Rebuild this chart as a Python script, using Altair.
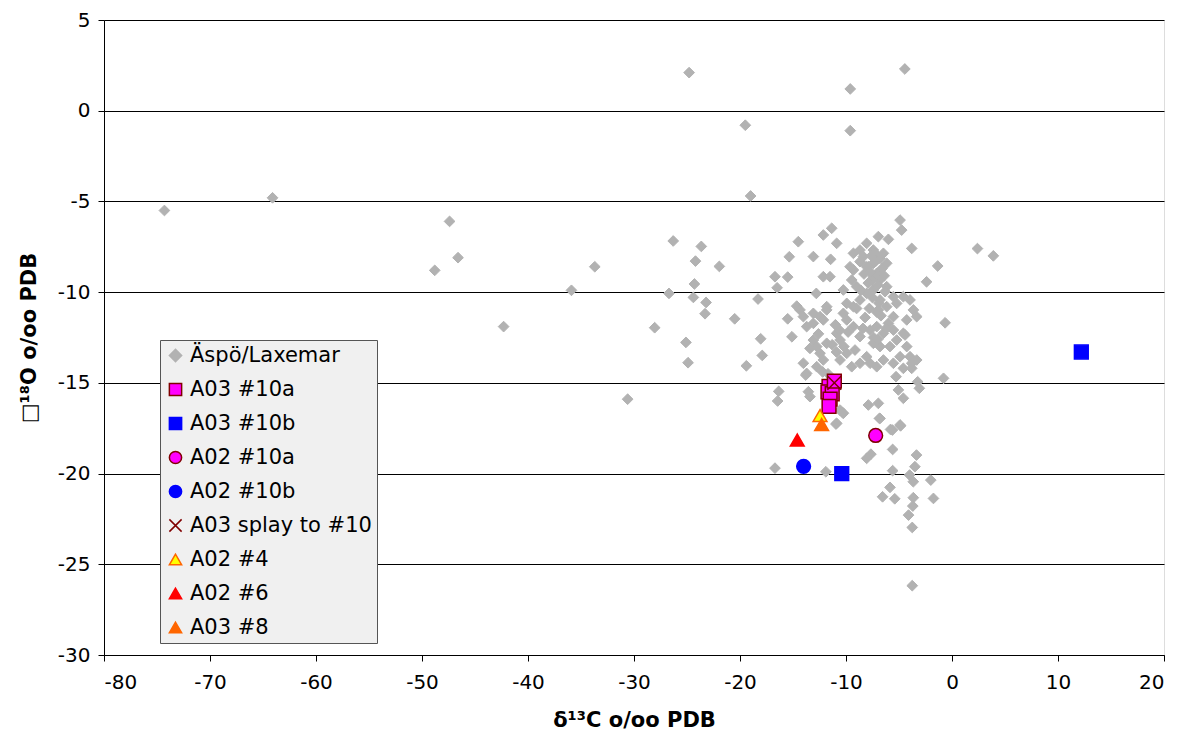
import altair as alt
import pandas as pd

# ---- Äspö/Laxemar background data (delta13C, delta18O) ----
gray_x = [
    -74.3, -64.1, -48.8, -47.4, -46.6, -42.3, -35.9, -33.7, -30.6,
    -24.8, -9.6, -4.45, -19.5, -9.6, -19.0,
    -26.3, -23.65, -24.2, -21.95, -26.7, -24.3, -24.4, -23.2, -23.3, -28.05,
    -25.1, -24.9, -20.5, -18.3, -16.7, -15.5, -15.35, -16.5, -18.05, -17.9,
    -19.4, -15.5, -15.1, -14.65, -14.5, -16.35, -16.45,
    -9.30, -8.68, -8.05, -7.42, -6.95, -6.00, -6.79, -6.16, -7.42, -8.05,
    -8.68, -9.30, -9.46, -8.99, -7.42, -6.79, -6.16, -7.42, -8.05, -8.68,
    -9.30, -9.93, -10.25, -9.93, -9.30, -8.68, -7.73, -7.10, -6.47, -7.42,
    -6.79, -5.85, -5.22, -4.27, -3.64, -4.59, -3.96, -3.33, -5.53, -6.16,
    -5.22, -4.59, -4.27, -3.96, -3.33, -4.90, -5.53, -6.47, -7.10, -7.73,
    -8.68, -9.46, -10.56, -10.88, -11.82, -12.45, -12.14, -12.76, -13.71, -14.02,
    -13.08, -12.76, -11.82, -12.45, -13.08, -13.71, -14.34, -14.02, -13.08,
    -12.14, -11.82, -10.25, -11.51, -12.14, -13.08, -11.35, -12.14, -10.88,
    -9.62, -7.89, -7.58, -7.10, -6.47, -7.26, -8.36, -10.56, -9.93, -9.15,
    -8.05, -13.8, -13.4, -13.55, -10.56, -10.25, -10.88, -7.89, -6.95, -6.79,
    -4.90, -5.62, -5.28, -5.06, -4.59, -3.24, -3.08, -3.80, -4.59, -3.80,
    -4.43, -5.53, -6.00, -6.95, -6.79, -5.53, -6.31, -11.45, -12.8,
    -4.9, -4.75, -3.8, -1.35, -2.4, -0.65, -0.8, 2.4, 3.9,
    -10.3, -10.95, -6.85, -5.8, -4.85, -5.6, -8.05, -7.65, -3.35, -3.5,
    -11.9, -5.6, -4.0, -3.65, -2.0, -5.85, -6.55, -5.4, -3.65, -1.75,
    -3.7, -4.1, -3.75, -3.75, -16.7,
    -7.6, -7.2, -6.6, -8.3, -7.9, -7.0, -6.4, -8.6, -7.5, -6.9,
    -7.8, -7.1, -8.2, -6.7, -7.4, -9.0, -8.4, -7.0, -6.2, -7.7,
    -11.0, -10.6, -12.6, -11.3, -13.4, -12.2, -10.9, -9.8, -11.7, -10.2,
]
gray_y = [
    -5.5, -4.8, -8.8, -6.1, -8.1, -11.9, -9.9, -8.6, -15.9,
    2.1, 1.2, 2.3, -0.8, -1.1, -4.7,
    -7.18, -7.48, -8.29, -8.58, -10.07, -9.55, -10.29, -10.57, -11.19, -11.96,
    -12.77, -13.89, -11.47, -10.38, -9.15, -9.17, -8.05, -9.76, -12.57, -13.49,
    -14.06, -11.47, -12.46, -10.77, -7.22, -15.47, -16.0,
    -7.86, -7.68, -7.31, -7.68, -6.94, -7.09, -8.14, -8.41, -8.41, -8.60,
    -8.32, -8.78, -9.33, -9.70, -9.15, -9.33, -9.70, -9.88, -10.07, -10.43,
    -10.80, -10.62, -11.17, -11.53, -11.90, -12.45, -12.09, -11.90, -12.27, -12.82,
    -13.00, -13.00, -12.64, -11.53, -10.98, -10.25, -10.43, -11.35, -11.35, -10.80,
    -10.62, -12.27, -13.00, -13.56, -13.74, -13.56, -13.92, -13.74, -14.11, -13.92,
    -13.92, -14.11, -12.64, -12.27, -12.82, -13.37, -13.74, -14.11, -14.48, -13.92,
    -12.64, -13.00, -10.98, -11.35, -11.72, -11.90, -10.98, -11.35, -11.17,
    -11.53, -10.80, -9.88, -9.15, -9.15, -8.04, -6.48, -6.85, -7.31,
    -8.60, -8.60, -9.33, -8.96, -7.86, -7.86, -8.04, -13.74, -13.37, -13.19,
    -13.56, -14.57, -15.76, -15.49, -16.50, -16.68, -17.23, -16.22, -16.13, -16.96,
    -17.32, -17.60, -14.66, -15.39, -15.85, -14.94, -15.30, -13.92, -14.20, -14.20,
    -12.36, -12.09, -11.72, -10.98, -10.43, -10.25, -9.97, -8.19, -10.07,
    -6.03, -6.58, -7.59, -8.56, -9.43, -11.69, -14.75, -7.6, -8.0,
    -16.65, -17.27, -16.96, -17.57, -17.37, -18.67, -19.16, -18.93, -18.98, -19.62,
    -19.9, -19.84, -20.08, -20.45, -20.36, -20.76, -21.28, -21.39, -21.33, -21.37,
    -21.79, -22.29, -22.97, -26.18, -19.7,
    -8.0, -8.3, -8.7, -9.0, -9.5, -9.6, -9.1, -9.9, -10.3, -10.6,
    -10.9, -11.1, -11.4, -11.3, -12.5, -10.9, -12.0, -12.6, -12.0, -8.9,
    -11.8, -12.1, -12.3, -12.9, -13.1, -14.4, -13.3, -12.2, -14.5, -13.0,
]

# ---- sample series ----
a03_10a_x = [-11.6, -11.7, -11.3, -11.5, -11.6, -11.1]
a03_10a_y = [-15.2, -15.5, -15.6, -15.9, -16.3, -14.9]
a03_10b_x = [12.2, -10.4]
a03_10b_y = [-13.3, -20.0]
a02_10a_x = [-7.2]
a02_10a_y = [-17.9]
a02_10b_x = [-14.0]
a02_10b_y = [-19.6]
splay_x = [-11.1]
splay_y = [-15.0]
a02_4_x = [-12.45]
a02_4_y = [-16.8]
a02_6_x = [-14.6]
a02_6_y = [-18.15]
a03_8_x = [-12.3]
a03_8_y = [-17.3]

series_names = ["Äspö/Laxemar", "A03 #10a", "A03 #10b", "A02 #10a", "A02 #10b",
                "A03 splay to #10", "A02 #4", "A02 #6", "A03 #8"]
fills = ["#B2B2B2", "#FF00FF", "#0000FF", "#FF00FF", "#0000FF",
         "transparent", "#FFFF00", "#FF0000", "#FF6600"]
strokes = ["#B2B2B2", "#800000", "#0000FF", "#800000", "#0000FF",
           "#800000", "#FF6600", "#FF0000", "#FF6600"]
shapes = ["diamond", "square", "square", "circle", "circle",
          "M-1,-1L1,1M-1,1L1,-1", "triangle-up", "triangle-up", "triangle-up"]

rows = []
for x, y in zip(gray_x, gray_y):
    rows.append({"c": x, "o": y, "s": series_names[0]})
colored = [
    (a03_10a_x, a03_10a_y, series_names[1]),
    (a03_10b_x, a03_10b_y, series_names[2]),
    (a02_10a_x, a02_10a_y, series_names[3]),
    (a02_10b_x, a02_10b_y, series_names[4]),
    (a02_4_x, a02_4_y, series_names[6]),
    (a02_6_x, a02_6_y, series_names[7]),
    (a03_8_x, a03_8_y, series_names[8]),
    (splay_x, splay_y, series_names[5]),
]
for xs, ys, name in colored:
    for x, y in zip(xs, ys):
        rows.append({"c": x, "o": y, "s": name})
df = pd.DataFrame(rows)

FONT = "DejaVu Sans"
LABEL_EXPR = "replace(datum.label, '\u2212', '-')"

xenc = alt.X("c:Q", scale=alt.Scale(domain=[-80, 20], nice=False, zero=False),
             axis=alt.Axis(values=list(range(-80, 21, 10)), grid=False, tickSize=6,
                           labelFontSize=20, labelFont=FONT, labelColor="black",
                           labelExpr=LABEL_EXPR,
                           labelPadding=11, domainColor="black", tickColor="black",
                           title="δ¹³C o/oo  PDB", titleFont=FONT, titleFontSize=21,
                           titleFontWeight="bold", titleColor="black", titlePadding=17))
yenc = alt.Y("o:Q", scale=alt.Scale(domain=[-30, 5], nice=False, zero=False),
             axis=alt.Axis(values=list(range(-30, 6, 5)), grid=True, gridColor="black",
                           gridOpacity=1, tickSize=6, labelFontSize=20, labelFont=FONT,
                           labelColor="black", labelPadding=8, domainColor="black",
                           labelExpr=LABEL_EXPR,
                           tickColor="black", title="□¹⁸O o/oo PDB", titleFont=FONT,
                           titleFontSize=21, titleFontWeight="bold", titleColor="black",
                           titlePadding=18))

legend = alt.Legend(orient="none", legendX=56, legendY=320, fillColor="#F0F0F0",
                    strokeColor="#555555", padding=5, rowPadding=12, labelFontSize=21,
                    labelFont=FONT, labelColor="black", symbolSize=150, labelLimit=400,
                    symbolStrokeWidth=1.5, symbolOpacity=1, labelOffset=4, title=None)

fill_enc = alt.Fill("s:N", scale=alt.Scale(domain=series_names, range=fills), legend=legend)
stroke_enc = alt.Stroke("s:N", scale=alt.Scale(domain=series_names, range=strokes), legend=legend)
shape_enc = alt.Shape("s:N", scale=alt.Scale(domain=series_names, range=shapes), legend=legend)

base = alt.Chart(df).encode(x=xenc, y=yenc, fill=fill_enc, stroke=stroke_enc, shape=shape_enc)

gray = base.transform_filter(alt.datum.s == series_names[0]).mark_point(
    filled=True, size=115, strokeWidth=1, opacity=1)
samples = base.transform_filter(alt.datum.s != series_names[0]).mark_point(
    filled=True, size=190, strokeWidth=1.5, opacity=1)

chart = alt.layer(gray, samples).properties(
    width=1060, height=635,
    autosize=alt.AutoSizeParams(type="none"),
    padding={"left": 96, "top": 12, "right": 14, "bottom": 76},
).configure_view(
    fill="#F0F0F0", stroke="#808080", strokeWidth=1.5
).configure(background="white")

chart.save("out.html", embed_options={"renderer": "svg", "actions": False})
